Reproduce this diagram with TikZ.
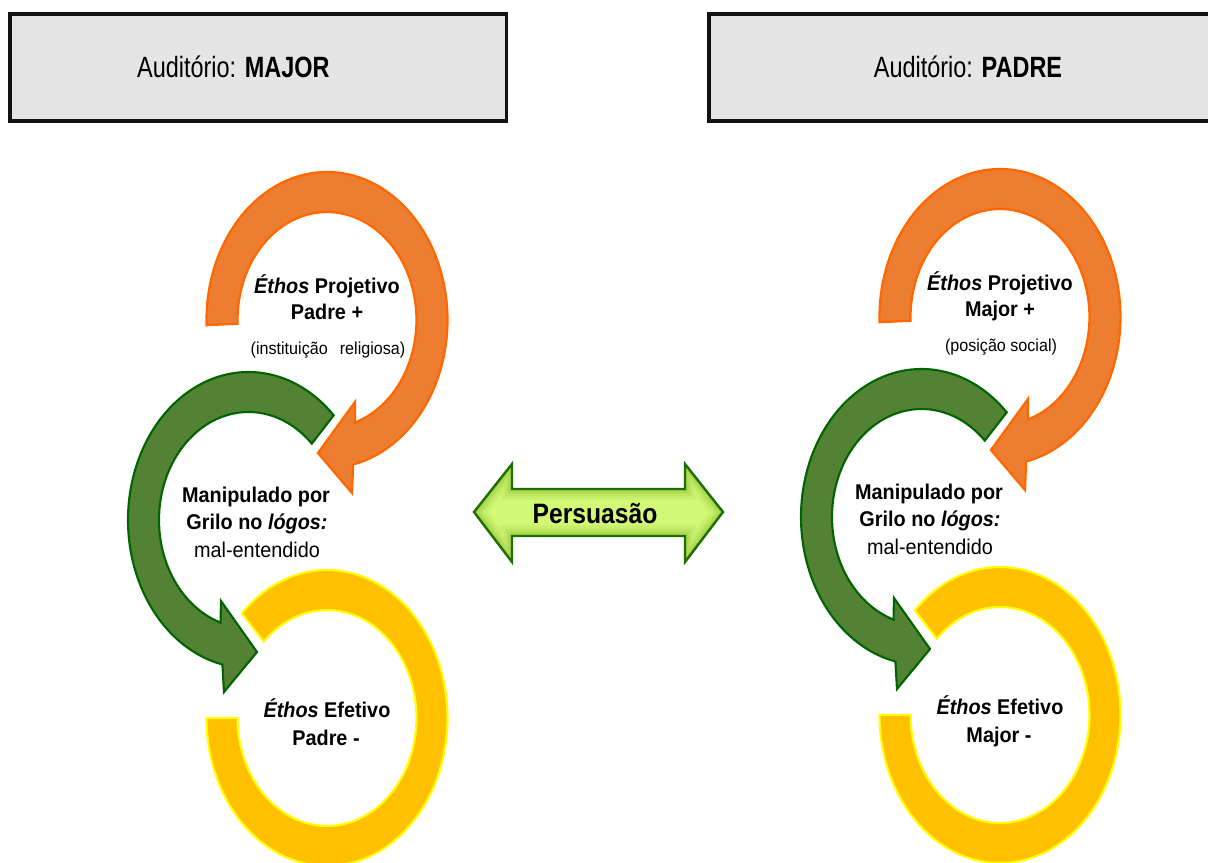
\documentclass[tikz,border=0pt]{standalone}
\usepackage{fontspec}
\setmainfont{Liberation Sans}
\newfontfamily\headfont[FakeStretch=0.80]{Liberation Sans}
\newfontfamily\ringfont[FakeStretch=0.93]{Liberation Sans}
\newfontfamily\arrowfont[FakeStretch=0.88]{Liberation Sans}

\definecolor{boxgray}{RGB}{229,229,229}
\definecolor{orfill}{RGB}{237,125,49}
\definecolor{ordraw}{RGB}{255,104,0}
\definecolor{grfill}{RGB}{84,130,53}
\definecolor{grdraw}{RGB}{0,100,0}
\definecolor{yefill}{RGB}{255,192,0}
\definecolor{yedraw}{RGB}{255,255,0}
\definecolor{limefill}{RGB}{210,248,118}
\definecolor{limeedge}{RGB}{120,175,30}
\definecolor{limedraw}{RGB}{30,110,0}

% one column: projected ethos (orange), manipulation (green), effective ethos (yellow)
% #1 shift, #2 node-name prefix, #3 projected subject, #4 note, #5 effective subject
\newcommand\ethosgroup[5]{%
  \begin{scope}[shift={#1}]
    % effective ethos: open ring
    \begin{scope}[shift={(327,718)}]
      \path[yering] plot[domain=225:540,samples=100] ({120.5*cos(\x)},{148*sin(\x)})
        -- plot[domain=540:225,samples=100] ({89.5*cos(\x)},{108*sin(\x)}) -- cycle;
    \end{scope}
    % manipulation: counter-clockwise arrow
    \begin{scope}[shift={(248.5,520)}]
      \path[grring] plot[domain=315:102.5,samples=100] ({120.5*cos(\x)},{148*sin(\x)})
        -- (-24.5,172) -- (8.5,132) -- (-27.5,81)
        -- plot[domain=108.2:315,samples=100] ({89.5*cos(\x)},{108*sin(\x)}) -- cycle;
    \end{scope}
    % projected ethos: clockwise arrow
    \begin{scope}[shift={(327,320)}]
      \path[orring] plot[domain=178:437.5,samples=100] ({120.5*cos(\x)},{148*sin(\x)})
        -- (25,173) -- (-9,133) -- (28,82)
        -- plot[domain=431.8:178,samples=100] ({89.5*cos(\x)},{108*sin(\x)}) -- cycle;
    \end{scope}
    \node[rtext] (#2proja) at (327,294) {\textbf{\textit{Éthos} Projetivo}};
    \node[rtext] (#2projb) at (327,320) {\textbf{#3 +}};
    \node[stext] (#2projc) at (328,354) {#4};
    \node[rtext] (#2mana) at (256,502.5) {\textbf{Manipulado por}};
    \node[rtext] (#2manb) at (257,529) {\textbf{Grilo no \textit{lógos:}}};
    \node[rtext] (#2manc) at (257,557) {mal-entendido};
    \node[rtext] (#2efea) at (327,717) {\textbf{\textit{Éthos} Efetivo}};
    \node[rtext] (#2efeb) at (326,745) {\textbf{#5 -}};
  \end{scope}}

% outline of the double arrow between the columns
\newcommand\persuasionoutline{(474,512) -- (512,464) -- (512,489) -- (685,489) -- (685,464)
  -- (723,512) -- (685,562) -- (685,536) -- (512,536) -- (512,562) -- cycle}

\begin{document}
\begin{tikzpicture}[x=0.75pt,y=-0.75pt,
  hbox/.style={draw=black!93, line width=2.5pt, fill=boxgray},
  htext/.style={anchor=base, inner sep=0pt, font=\headfont\fontsize{22}{26}\selectfont},
  rtext/.style={anchor=base, inner sep=0pt, font=\ringfont\fontsize{16}{19}\selectfont},
  stext/.style={anchor=base, inner sep=0pt, font=\ringfont\fontsize{13}{16}\selectfont},
  orring/.style={fill=orfill, draw=ordraw, line width=1.7pt},
  grring/.style={fill=grfill, draw=grdraw, line width=1.6pt},
  yering/.style={fill=yefill, draw=yedraw, line width=1.6pt},
  ptext/.style={anchor=base, inner sep=0pt, font=\arrowfont\fontsize{21}{25}\selectfont\bfseries}]
\useasboundingbox (0,0) rectangle (1208,863);
\clip (0,0) rectangle (1208,863);

% audience headers
\draw[hbox] (10,14) rectangle (506.5,121);
\node[htext] (audmajor) at (233.4,78) {Auditório: \textbf{MAJOR}};
\draw[hbox] (709,14) rectangle (1240,121);
\node[htext] (audpadre) at (968,78) {Auditório: \textbf{PADRE}};

% the two columns
\ethosgroup{(0,0)}{L}{Padre}{(instituição\hspace{0.7em}religiosa)}{Padre}
\ethosgroup{(673,-3)}{R}{Major}{(posição social)}{Major}

% double arrow with a soft inner glow
\path[fill=limefill] \persuasionoutline;
\begin{scope}
  \clip \persuasionoutline;
  \foreach \w/\o in {16/0.10,11/0.13,7/0.17,3.5/0.22}
    \draw[limeedge, line width=\w pt, opacity=\o, line join=miter] \persuasionoutline;
\end{scope}
\draw[limedraw, line width=1.8pt] \persuasionoutline;
\node[ptext] (persuasao) at (595,523) {Persuasão};
\end{tikzpicture}
\end{document}
